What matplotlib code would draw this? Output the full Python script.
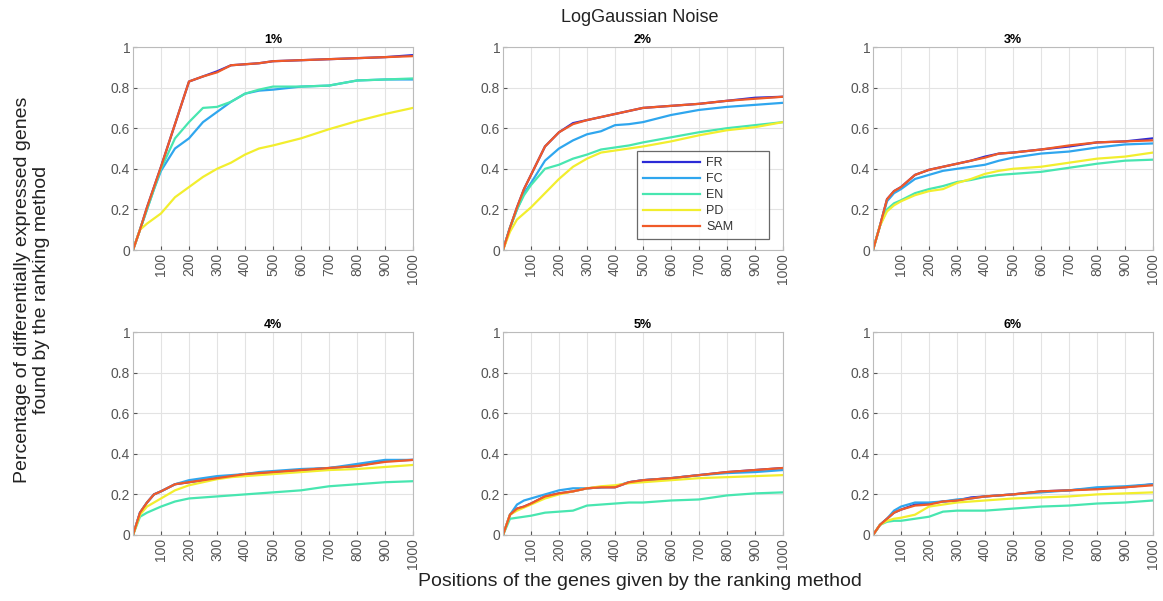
import matplotlib
matplotlib.use("Agg")
import matplotlib.pyplot as plt

plt.rcParams['font.family'] = ['Liberation Sans', 'DejaVu Sans']

# Positions (x) at which values were read
positions = [0, 25, 50, 75, 100, 150, 200, 250, 300, 350, 400, 450, 500, 600, 700, 800, 900, 1000]

methods = ["FR", "FC", "EN", "PD", "SAM"]
colors = {"FR": "#2b2ad6", "FC": "#2fa6ee", "EN": "#48e6b0", "PD": "#f2ee2e", "SAM": "#f05a28"}
panel_titles = ["1%", "2%", "3%", "4%", "5%", "6%"]

p1_FR  = [0, 0.10, 0.21, 0.31, 0.41, 0.62, 0.83, 0.855, 0.88, 0.91, 0.915, 0.92, 0.93, 0.935, 0.94, 0.945, 0.95, 0.96]
p1_FC  = [0, 0.10, 0.20, 0.30, 0.39, 0.50, 0.55, 0.63, 0.68, 0.73, 0.77, 0.785, 0.79, 0.805, 0.81, 0.835, 0.84, 0.84]
p1_EN  = [0, 0.10, 0.20, 0.30, 0.40, 0.55, 0.63, 0.70, 0.705, 0.73, 0.77, 0.79, 0.805, 0.805, 0.81, 0.835, 0.84, 0.845]
p1_PD  = [0, 0.10, 0.13, 0.155, 0.18, 0.26, 0.31, 0.36, 0.40, 0.43, 0.47, 0.50, 0.515, 0.55, 0.595, 0.635, 0.67, 0.70]
p1_SAM = [0, 0.10, 0.21, 0.31, 0.41, 0.62, 0.83, 0.855, 0.875, 0.91, 0.915, 0.92, 0.93, 0.935, 0.94, 0.945, 0.95, 0.955]

p2_FR  = [0, 0.11, 0.21, 0.30, 0.37, 0.51, 0.58, 0.625, 0.64, 0.655, 0.67, 0.685, 0.70, 0.71, 0.72, 0.735, 0.75, 0.755]
p2_FC  = [0, 0.11, 0.20, 0.28, 0.33, 0.44, 0.50, 0.54, 0.57, 0.585, 0.615, 0.62, 0.63, 0.665, 0.69, 0.705, 0.715, 0.725]
p2_EN  = [0, 0.11, 0.20, 0.27, 0.32, 0.40, 0.42, 0.45, 0.47, 0.495, 0.505, 0.515, 0.53, 0.555, 0.58, 0.60, 0.615, 0.63]
p2_PD  = [0, 0.09, 0.15, 0.18, 0.21, 0.28, 0.35, 0.41, 0.45, 0.48, 0.49, 0.50, 0.51, 0.535, 0.565, 0.59, 0.605, 0.63]
p2_SAM = [0, 0.11, 0.21, 0.30, 0.37, 0.51, 0.58, 0.62, 0.64, 0.655, 0.67, 0.685, 0.70, 0.71, 0.72, 0.735, 0.745, 0.755]

p3_FR  = [0, 0.12, 0.25, 0.29, 0.31, 0.37, 0.395, 0.41, 0.425, 0.44, 0.46, 0.475, 0.48, 0.495, 0.51, 0.53, 0.535, 0.55]
p3_FC  = [0, 0.12, 0.24, 0.28, 0.30, 0.35, 0.37, 0.39, 0.40, 0.41, 0.42, 0.44, 0.455, 0.475, 0.485, 0.505, 0.52, 0.525]
p3_EN  = [0, 0.12, 0.20, 0.23, 0.245, 0.28, 0.30, 0.315, 0.335, 0.345, 0.36, 0.37, 0.375, 0.385, 0.405, 0.425, 0.44, 0.445]
p3_PD  = [0, 0.12, 0.19, 0.22, 0.24, 0.27, 0.29, 0.30, 0.33, 0.35, 0.375, 0.39, 0.40, 0.41, 0.43, 0.45, 0.46, 0.48]
p3_SAM = [0, 0.12, 0.25, 0.29, 0.31, 0.37, 0.395, 0.41, 0.425, 0.44, 0.455, 0.475, 0.48, 0.495, 0.515, 0.53, 0.535, 0.54]

p4_FR  = [0, 0.11, 0.16, 0.20, 0.215, 0.25, 0.26, 0.27, 0.28, 0.29, 0.30, 0.305, 0.31, 0.32, 0.33, 0.34, 0.365, 0.37]
p4_FC  = [0, 0.11, 0.16, 0.20, 0.215, 0.25, 0.27, 0.28, 0.29, 0.295, 0.30, 0.31, 0.315, 0.325, 0.33, 0.35, 0.37, 0.37]
p4_EN  = [0, 0.09, 0.11, 0.125, 0.14, 0.165, 0.18, 0.185, 0.19, 0.195, 0.20, 0.205, 0.21, 0.22, 0.24, 0.25, 0.26, 0.265]
p4_PD  = [0, 0.10, 0.14, 0.16, 0.18, 0.22, 0.245, 0.26, 0.275, 0.285, 0.29, 0.295, 0.30, 0.31, 0.32, 0.325, 0.335, 0.345]
p4_SAM = [0, 0.11, 0.16, 0.20, 0.215, 0.25, 0.26, 0.27, 0.28, 0.29, 0.30, 0.305, 0.31, 0.32, 0.33, 0.34, 0.36, 0.37]

p5_FR  = [0, 0.10, 0.13, 0.14, 0.155, 0.19, 0.205, 0.215, 0.23, 0.235, 0.235, 0.26, 0.27, 0.28, 0.295, 0.31, 0.32, 0.33]
p5_FC  = [0, 0.10, 0.15, 0.17, 0.18, 0.20, 0.22, 0.23, 0.23, 0.235, 0.24, 0.26, 0.27, 0.28, 0.295, 0.305, 0.31, 0.32]
p5_EN  = [0, 0.08, 0.085, 0.09, 0.095, 0.11, 0.115, 0.12, 0.145, 0.15, 0.155, 0.16, 0.16, 0.17, 0.175, 0.195, 0.205, 0.21]
p5_PD  = [0, 0.10, 0.12, 0.135, 0.15, 0.18, 0.20, 0.215, 0.23, 0.24, 0.245, 0.255, 0.26, 0.27, 0.28, 0.285, 0.29, 0.295]
p5_SAM = [0, 0.10, 0.13, 0.14, 0.155, 0.19, 0.205, 0.215, 0.23, 0.235, 0.235, 0.26, 0.27, 0.28, 0.295, 0.31, 0.32, 0.33]

p6_FR  = [0, 0.05, 0.08, 0.11, 0.125, 0.15, 0.155, 0.165, 0.17, 0.185, 0.19, 0.195, 0.20, 0.215, 0.22, 0.23, 0.235, 0.25]
p6_FC  = [0, 0.05, 0.08, 0.12, 0.14, 0.16, 0.16, 0.165, 0.175, 0.18, 0.19, 0.195, 0.20, 0.21, 0.22, 0.235, 0.24, 0.25]
p6_EN  = [0, 0.05, 0.065, 0.07, 0.07, 0.08, 0.09, 0.115, 0.12, 0.12, 0.12, 0.125, 0.13, 0.14, 0.145, 0.155, 0.16, 0.17]
p6_PD  = [0, 0.05, 0.07, 0.08, 0.085, 0.10, 0.14, 0.15, 0.16, 0.165, 0.17, 0.175, 0.18, 0.185, 0.19, 0.20, 0.205, 0.21]
p6_SAM = [0, 0.05, 0.08, 0.11, 0.125, 0.145, 0.15, 0.165, 0.17, 0.18, 0.19, 0.195, 0.20, 0.215, 0.22, 0.225, 0.235, 0.245]

panels = [
    {"FR": p1_FR, "FC": p1_FC, "EN": p1_EN, "PD": p1_PD, "SAM": p1_SAM},
    {"FR": p2_FR, "FC": p2_FC, "EN": p2_EN, "PD": p2_PD, "SAM": p2_SAM},
    {"FR": p3_FR, "FC": p3_FC, "EN": p3_EN, "PD": p3_PD, "SAM": p3_SAM},
    {"FR": p4_FR, "FC": p4_FC, "EN": p4_EN, "PD": p4_PD, "SAM": p4_SAM},
    {"FR": p5_FR, "FC": p5_FC, "EN": p5_EN, "PD": p5_PD, "SAM": p5_SAM},
    {"FR": p6_FR, "FC": p6_FC, "EN": p6_EN, "PD": p6_PD, "SAM": p6_SAM},
]

xticks = [100, 200, 300, 400, 500, 600, 700, 800, 900, 1000]
yticks = [0, 0.2, 0.4, 0.6, 0.8, 1]
ytick_labels = ["0", "0.2", "0.4", "0.6", "0.8", "1"]

W, H = 1163, 601
fig = plt.figure(figsize=(W / 100, H / 100), dpi=100)

lefts = [133, 503, 873]
tops = [47, 332]
aw, ah = 280, 203

axes = []
for i in range(6):
    r, c = divmod(i, 3)
    l = lefts[c]
    t = tops[r]
    ax = fig.add_axes([l / W, 1 - (t + ah) / H, aw / W, ah / H])
    axes.append(ax)
    for m in methods:
        ax.plot(positions, panels[i][m], color=colors[m], lw=1.6, label=m)
    ax.set_xlim(0, 1000)
    ax.set_ylim(0, 1)
    ax.set_xticks(xticks)
    ax.set_xticklabels([str(v) for v in xticks], rotation=90)
    ax.set_yticks(yticks)
    ax.set_yticklabels(ytick_labels)
    ax.grid(True, color="#e3e3e3", lw=0.8)
    ax.set_axisbelow(True)
    ax.tick_params(direction="in", length=3, colors="#555555", labelsize=10, pad=2)
    for s in ax.spines.values():
        s.set_color("#bbbbbb")
        s.set_linewidth(0.8)
    ax.set_title(panel_titles[i], fontsize=9, fontweight="bold", pad=3)

leg = axes[1].legend(loc="lower left", bbox_to_anchor=(0.479, 0.054, 0.471, 0.414), mode="expand",
                     borderaxespad=0, fontsize=9, handlelength=4.6, frameon=True, fancybox=False,
                     borderpad=0.45, labelspacing=0.33, handletextpad=0.5)
leg.get_frame().set_edgecolor("#444444")
leg.get_frame().set_linewidth(0.9)
for t in leg.get_texts():
    t.set_color("#333333")

fig.text(640 / W, 1 - 18 / H, "LogGaussian Noise", ha="center", va="center", fontsize=13, color="#222222")
fig.text(640 / W, 1 - 582 / H, "Positions of the genes given by the ranking method",
         ha="center", va="center", fontsize=14, color="#222222")
fig.text(32 / W, 1 - 290 / H, "Percentage of differentially expressed genes\nfound by the ranking method",
         ha="center", va="center", rotation=90, fontsize=14, color="#222222", linespacing=1.2)

fig.savefig("out.png", dpi=100)
